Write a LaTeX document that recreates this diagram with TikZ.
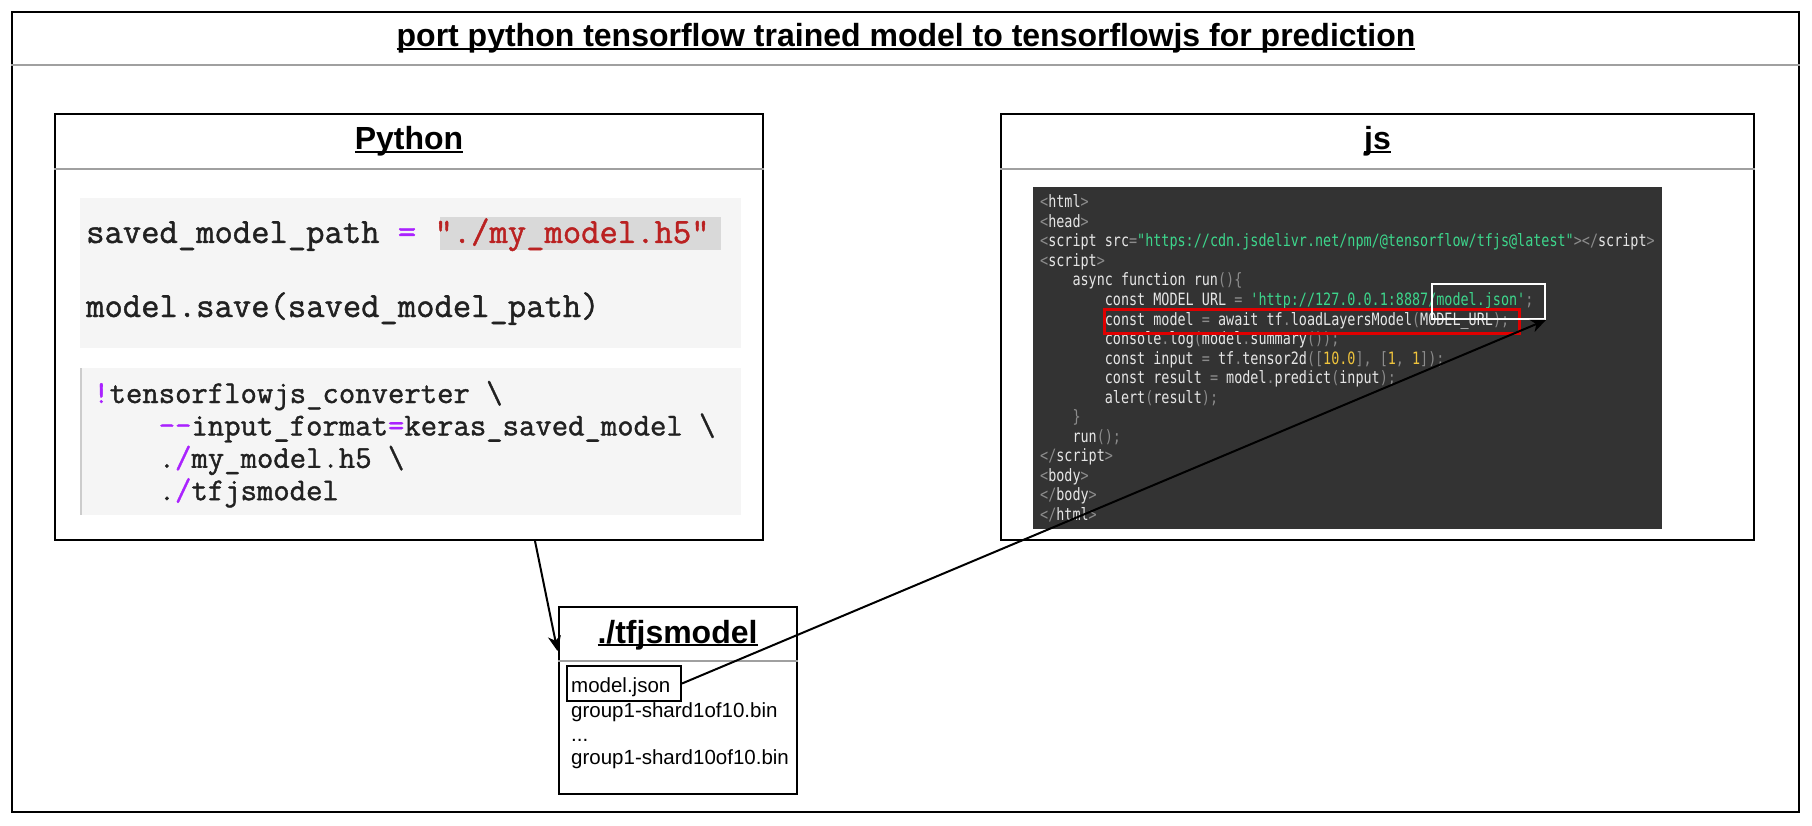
\documentclass[tikz,border=0pt]{standalone}
\usepackage{fontspec}
\setmainfont{Liberation Sans}
\newfontfamily\pyfont[Ligatures=TeXOff,FakeBold=1.2]{Latin Modern Mono}
\newfontfamily\jsfont[Ligatures=TeXOff,FakeStretch=0.79]{DejaVu Sans Mono}
\usetikzlibrary{arrows.meta,calc,positioning}

\definecolor{codebg}{HTML}{F5F5F5}
\definecolor{strbg}{HTML}{D9D9D9}
\definecolor{pytext}{HTML}{212121}
\definecolor{pypurple}{HTML}{AA22FF}
\definecolor{pyred}{HTML}{BA2121}
\definecolor{jsbg}{HTML}{333333}
\definecolor{jstext}{HTML}{E6E6E6}
\definecolor{jspunct}{HTML}{8C8C8C}
\definecolor{jsgreen}{HTML}{3DD68C}
\definecolor{jsyellow}{HTML}{F0C43C}
\definecolor{sepgray}{HTML}{A0A0A0}
\definecolor{markred}{HTML}{E00000}

% underlined header text
\newcommand{\headul}[1]{\setbox0=\hbox{#1}\rlap{\rule[-0.1em]{\wd0}{0.06em}}\box0}
% js syntax colours
\newcommand{\jpun}[1]{\textcolor{jspunct}{#1}}
\newcommand{\jstr}[1]{\textcolor{jsgreen}{#1}}
\newcommand{\jnum}[1]{\textcolor{jsyellow}{#1}}
\newcommand{\pyop}[1]{\textcolor{pypurple}{#1}}
\newcommand{\ind}{\phantom{0000}}

\tikzset{
  panel/.style={draw, line width=2pt, inner sep=0pt},
  sepline/.style={draw=sepgray, line width=2pt},
  header/.style={anchor=base, inner sep=0pt, font=\bfseries\fontsize{32}{38}\selectfont},
  pyline/.style={anchor=base west, inner sep=0pt, text=pytext},
  jsline/.style={anchor=base west, inner sep=0pt, text=jstext, font=\jsfont\fontsize{17}{19.5}\selectfont},
  fileline/.style={anchor=base west, inner sep=0pt, font=\fontsize{20.5}{24}\selectfont},
  arr/.style={line width=2pt, -{Stealth[length=15pt,width=13pt,inset=4.5pt]}}
}

\begin{document}
\begin{tikzpicture}[x=1pt,y=1pt,yscale=-1]
  \useasboundingbox (0,0) rectangle (1812,826);

  % outer frame
  \node[panel] (frame) at (905.5,412) [minimum width=1787, minimum height=799] {};
  \draw[sepline] ($(frame.north west)+(0,54)$) -- ($(frame.north east)+(0,54)$);
  \node[header] (title) at (906,47) {\headul{port python tensorflow trained model to tensorflowjs for prediction}};

  % Python panel
  \node[panel] (pybox) at (409,327) [minimum width=708, minimum height=426] {};
  \draw[sepline] ($(pybox.north west)+(0,56)$) -- ($(pybox.north east)+(0,56)$);
  \node[header] (pytitle) at (409,150) {\headul{Python}};

  \fill[codebg] (80,198) rectangle (741,348);
  \fill[strbg] (440,217) rectangle (721,250);
  \node[pyline, font=\pyfont\fontsize{35.6}{40}\selectfont] (py1) at (86,243)
    {saved\_model\_path \pyop{=} \textcolor{pyred}{"./my\_model.h5"}};
  \node[pyline, font=\pyfont\fontsize{35.6}{40}\selectfont] (py2) at (86,317)
    {model.save(saved\_model\_path)};

  \fill[codebg] (80,368) rectangle (741,515);
  \draw[draw=black!20, line width=2pt] (81,368) -- (81,515);
  \node[pyline, font=\pyfont\fontsize{31.8}{36}\selectfont] (cv1) at (93,403)
    {\pyop{!}tensorflowjs\_converter \textbackslash};
  \node[pyline, font=\pyfont\fontsize{31.8}{36}\selectfont] (cv2) at (93,435.4)
    {\ind\pyop{-{}-}input\_format\pyop{=}keras\_saved\_model \textbackslash};
  \node[pyline, font=\pyfont\fontsize{31.8}{36}\selectfont] (cv3) at (93,467.8)
    {\ind.\pyop{/}my\_model.h5 \textbackslash};
  \node[pyline, font=\pyfont\fontsize{31.8}{36}\selectfont] (cv4) at (93,500.2)
    {\ind.\pyop{/}tfjsmodel};

  % js panel
  \node[panel] (jsbox) at (1377.5,327) [minimum width=753, minimum height=426] {};
  \draw[sepline] ($(jsbox.north west)+(0,56)$) -- ($(jsbox.north east)+(0,56)$);
  \node[header] (jstitle) at (1377.5,150) {\headul{js}};

  \fill[jsbg] (1033,187) rectangle (1662,529);
  \node[jsline] (js1) at (1040,208) {\jpun{<}html\jpun{>}};
  \node[jsline] (js2) at (1040,227.5) {\jpun{<}head\jpun{>}};
  \node[jsline] (js3) at (1040,247) {\jpun{<}script src\jpun{=}\jstr{"https://cdn.jsdelivr.net/npm/@tensorflow/tfjs@latest"}\jpun{></}script\jpun{>}};
  \node[jsline] (js4) at (1040,266.5) {\jpun{<}script\jpun{>}};
  \node[jsline] (js5) at (1040,286) {\ind async function run\jpun{()\{}};
  \node[jsline] (js6) at (1040,305.5) {\ind\ind const MODEL\_URL \jpun{=} \jstr{'http://127.0.0.1:8887/model.json'}\jpun{;}};
  \node[jsline] (js7) at (1040,325) {\ind\ind const model \jpun{=} await tf\jpun{.}loadLayersModel\jpun{(}MODEL\_URL\jpun{);}};
  \node[jsline] (js8) at (1040,344.5) {\ind\ind console\jpun{.}log\jpun{(}model\jpun{.}summary\jpun{());}};
  \node[jsline] (js9) at (1040,364) {\ind\ind const input \jpun{=} tf\jpun{.}tensor2d\jpun{([}\jnum{10.0}\jpun{], [}\jnum{1}\jpun{, }\jnum{1}\jpun{]);}};
  \node[jsline] (js10) at (1040,383.5) {\ind\ind const result \jpun{=} model\jpun{.}predict\jpun{(}input\jpun{);}};
  \node[jsline] (js11) at (1040,403) {\ind\ind alert\jpun{(}result\jpun{);}};
  \node[jsline] (js12) at (1040,422.5) {\ind\jpun{\}}};
  \node[jsline] (js13) at (1040,442) {\ind run\jpun{();}};
  \node[jsline] (js14) at (1040,461.5) {\jpun{</}script\jpun{>}};
  \node[jsline] (js15) at (1040,481) {\jpun{<}body\jpun{>}};
  \node[jsline] (js16) at (1040,500.5) {\jpun{</}body\jpun{>}};
  \node[jsline] (js17) at (1040,520) {\jpun{</}html\jpun{>}};

  \draw[markred, line width=3pt] (1104,309) rectangle (1519,333);
  \node[draw=white, line width=2pt, minimum width=113, minimum height=35, inner sep=0pt] (urlbox) at (1488.5,301.5) {};

  % tfjsmodel folder
  \node[panel] (tfjs) at (677.5,700.5) [minimum width=238, minimum height=187] {};
  \draw[sepline] ($(tfjs.north west)+(0,55)$) -- ($(tfjs.north east)+(0,55)$);
  \node[header] (tftitle) at (677.5,643) {\headul{./tfjsmodel}};

  \node[draw, line width=2pt, minimum width=114, minimum height=35, inner sep=0pt] (mjbox) at (624,683.5) {};
  \node[fileline] (f1) at (571,692) {model.json};
  \node[fileline] (f2) at (571,717) {group1-shard1of10.bin};
  \node[fileline] (f3) at (571,741) {...};
  \node[fileline] (f4) at (571,764) {group1-shard10of10.bin};

  % connectors
  \draw[arr] ($(pybox.south)+(126,0)$) -- ($(tfjs.north west)+(0,45)$);
  \draw[arr] (mjbox.east) -- (urlbox.south east);
\end{tikzpicture}
\end{document}
